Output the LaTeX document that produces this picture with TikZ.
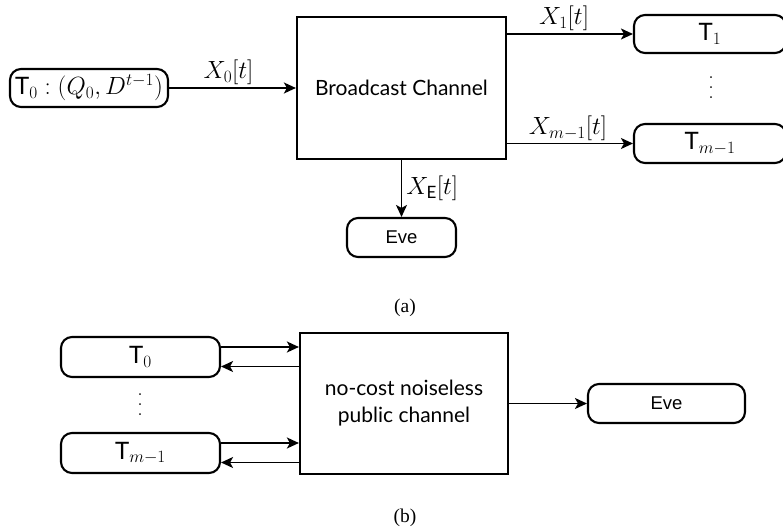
\documentclass[tikz,border=0pt]{standalone}
\usepackage{fontspec}
\usepackage{amsmath}
\usetikzlibrary{arrows.meta,calc}
\newfontfamily\gill{Lato}
\newfontfamily\capfont{Liberation Serif}
\newfontfamily\evefont{Liberation Sans}
\newcommand{\sfT}{\mbox{\gill T}}
\newcommand{\sfE}{\mbox{\gill\fontsize{17}{20}\selectfont E}}
\newcommand{\myvdots}{\vbox{\baselineskip=10pt\lineskiplimit=0pt\hbox{.}\hbox{.}\hbox{.}}}
\tikzset{
  rbox/.style={draw, line width=2.1pt, rounded corners=11pt, inner sep=0pt, font=\fontsize{24}{28}\selectfont},
  sbox/.style={draw, line width=2.2pt, inner sep=0pt, align=center, font=\gill\fontsize{21}{27}\selectfont},
  arr/.style={line width=1.8pt, -{Stealth[length=12pt,width=11pt,inset=3pt]}},
  lab/.style={font=\fontsize{24}{28}\selectfont, inner sep=2pt},
  dotsnode/.style={font=\fontsize{22}{26}\selectfont, inner sep=0pt},
  captext/.style={font=\capfont\fontsize{19.5}{22}\selectfont},
  evelbl/.style={font=\evefont\fontsize{18.5}{22}\selectfont}
}
\begin{document}
\begin{tikzpicture}[x=1pt,y=-1pt]
\useasboundingbox (0,0) rectangle (783,529);
% (a)
\node[rbox, minimum width=158pt, minimum height=38pt] (t0a) at (89,88) {$\sfT_0:(Q_0,D^{t-1})$};
\node[sbox, minimum width=209pt, minimum height=142pt] (bc) at (401.5,88) {Broadcast Channel};
\node[rbox, minimum width=152pt, minimum height=38pt] (t1) at (710,34) {$\sfT_1$};
\node[rbox, minimum width=152pt, minimum height=39pt] (tm) at (710,143.5) {$\sfT_{m-1}$};
\node[dotsnode] (vd1) at (711,88) {\myvdots};
\node[rbox, evelbl, minimum width=109pt, minimum height=39pt] (evea) at (401.5,237.5) {Eve};
\node[captext] (capa) at (405,308) {(a)};
\draw[arr] (t0a.east) -- node[lab, above, xshift=-4pt] {$X_0[t]$} (bc.west);
\draw[arr] (bc.east |- t1.west) -- node[lab, above, xshift=-6pt] {$X_1[t]$} (t1.west);
\draw[arr] (bc.east |- tm.west) -- node[lab, above, xshift=-2pt] {$X_{m-1}[t]$} (tm.west);
\draw[arr] (bc.south) -- node[lab, right, xshift=2pt] {$X_{\sfE}[t]$} (evea.north);
% (b)
\node[rbox, minimum width=159pt, minimum height=40pt] (t0b) at (140.5,357) {$\sfT_0$};
\node[rbox, minimum width=159pt, minimum height=40pt] (tmb) at (140.5,453) {$\sfT_{m-1}$};
\node[dotsnode] (vd2) at (140,405) {\myvdots};
\node[sbox, minimum width=208pt, minimum height=141pt] (pc) at (404,403.5) {no-cost noiseless\\public channel};
\node[rbox, evelbl, minimum width=157pt, minimum height=39pt] (eveb) at (666.5,403.5) {Eve};
\node[captext] (capb) at (405,518) {(b)};
\coordinate (a1) at ([yshift=10pt]t0b.east);
\coordinate (a2) at ([yshift=-9.5pt]t0b.east);
\coordinate (a3) at ([yshift=10pt]tmb.east);
\coordinate (a4) at ([yshift=-9.5pt]tmb.east);
\draw[arr] (a1) -- (a1 -| pc.west);
\draw[arr] (a2 -| pc.west) -- (a2);
\draw[arr] (a3) -- (a3 -| pc.west);
\draw[arr] (a4 -| pc.west) -- (a4);
\draw[arr] (pc.east) -- (eveb.west);
\end{tikzpicture}
\end{document}
